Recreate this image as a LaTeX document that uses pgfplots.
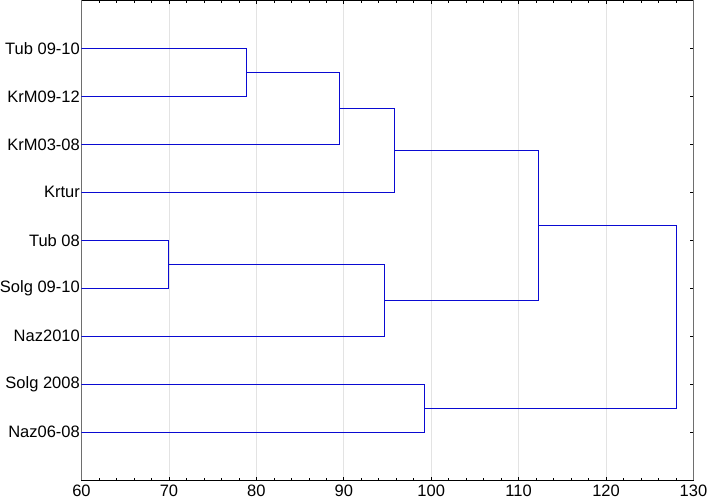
\documentclass[border=0pt]{standalone}
\usepackage{fontspec}
\setmainfont{Liberation Sans}
\usepackage{pgfplots}
\pgfplotsset{compat=1.18}
\definecolor{dendro}{RGB}{10,10,210}
\definecolor{sidegray}{RGB}{110,110,110}
\begin{document}
\begin{tikzpicture}
  \path[use as bounding box] (-81.5pt,-23pt) rectangle (625.5pt,480pt);
  \begin{axis}[
    scale only axis,
    width=612pt, height=479.5pt,
    xmin=60, xmax=130,
    ymin=0, ymax=10,
    y dir=reverse,
    xtick={60,70,...,130},
    minor x tick num=4,
    ytick={1,...,9},
    yticklabels={Tub 09-10, KrM09-12, KrM03-08, Krtur, Tub 08, Solg 09-10, Naz2010, Solg 2008, Naz06-08},
    ytick pos=right,
    yticklabel pos=left,
    tick align=inside,
    major tick length=3.5pt,
    minor tick length=2.5pt,
    xmajorgrids,
    grid style={draw=gray!22, line width=0.6pt},
    tick style={black, line width=0.6pt},
    separate axis lines,
    x axis line style={black, line width=0.7pt},
    y axis line style={sidegray, line width=1.8pt},
    ticklabel style={font=\fontsize{16.5}{18}\selectfont},
    /pgf/number format/assume math mode=true,
    xticklabel style={yshift=-1.5pt},
    yticklabel style={inner xsep=0pt, xshift=-1.5pt},
  ]
    % dendrogram links: leaves at y = 1..9, linkage distance on x
    \addplot[dendro, line width=0.9pt] coordinates {(60,1) (78.9,1) (78.9,2) (60,2)};
    \addplot[dendro, line width=0.9pt] coordinates {(78.9,1.5) (89.5,1.5) (89.5,3) (60,3)};
    \addplot[dendro, line width=0.9pt] coordinates {(89.5,2.25) (95.8,2.25) (95.8,4) (60,4)};
    \addplot[dendro, line width=0.9pt] coordinates {(60,5) (69.9,5) (69.9,6) (60,6)};
    \addplot[dendro, line width=0.9pt] coordinates {(69.9,5.5) (94.6,5.5) (94.6,7) (60,7)};
    \addplot[dendro, line width=0.9pt] coordinates {(95.8,3.125) (112.3,3.125) (112.3,6.25) (94.6,6.25)};
    \addplot[dendro, line width=0.9pt] coordinates {(60,8) (99.2,8) (99.2,9) (60,9)};
    \addplot[dendro, line width=0.9pt] coordinates {(112.3,4.6875) (128.05,4.6875) (128.05,8.5) (99.2,8.5)};
  \end{axis}
\end{tikzpicture}
\end{document}
